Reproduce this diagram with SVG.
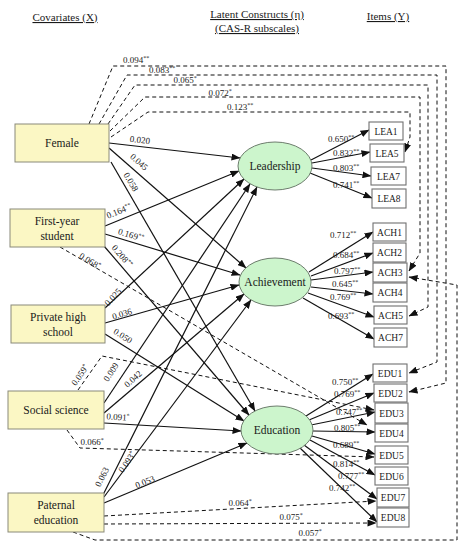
<svg xmlns="http://www.w3.org/2000/svg" width="465" height="550" viewBox="0 0 465 550">
<style>
text{font-family:"Liberation Serif","Times New Roman",serif;fill:#1a1a1a}
.hd{font-size:11px;text-decoration:underline;text-anchor:middle}
.cov rect{fill:#FBF7C4;stroke:#8a8a7a;stroke-width:1}
.cov text{font-size:11.5px;text-anchor:middle}
.lat ellipse{fill:#CCF5CC;stroke:#6d7d6d;stroke-width:1}
.lat text{font-size:11.5px;text-anchor:middle}
.itm rect{fill:#fff;stroke:#707070;stroke-width:1.1}
.itm text{font-size:9.5px;text-anchor:middle}
.sol{fill:none;stroke:#111;stroke-width:1.2;marker-end:url(#ah)}
.dsh{fill:none;stroke:#111;stroke-width:1;stroke-dasharray:4 3}
.da{marker-end:url(#ah)}
.lb{font-size:9px;text-anchor:middle}
.st{font-size:6px}
</style>
<defs>
<marker id="ah" markerWidth="9" markerHeight="7" refX="8.5" refY="3.5" orient="auto" markerUnits="userSpaceOnUse">
<path d="M0,0 L9,3.5 L0,7 z" fill="#111"/>
</marker>
</defs>
<g id="headers">
<text class="hd" x="65" y="21">Covariates (X)</text>
<text class="hd" x="257" y="18">Latent Constructs (η)</text>
<text class="hd" x="257" y="32">(CAS-R subscales)</text>
<text class="hd" x="388" y="20">Items (Y)</text>
</g>
<g id="connectors">
<!-- dashed covariances from Female -->
<path class="dsh da" d="M89,124 L113,66 L446,66 L446,383 L409,392"/>
<path class="dsh da" d="M99,124 L127,75 L437,75 L437,362 L409,373"/>
<path class="dsh da" d="M108,124 L135,85 L428,85 L428,307 L409,316"/>
<path class="dsh da" d="M110,131 L145,97 L420,97 L420,253 L409,271"/>
<path class="dsh da" d="M111,137 L148,112 L410,112 L410,137 L405,152"/>
<!-- dashed other -->
<path class="dsh da" d="M60,247 L367,425"/>
<path class="dsh da" d="M78,390 L102,356 L374,410"/>
<path class="dsh da" d="M67,430 L80,448 L374,457"/>
<path class="dsh da" d="M104,516 L376,501"/>
<path class="dsh da" d="M104,524 L376,523"/>
<path class="dsh da" d="M73,532 L95,540 L457,540 L457,285 L409,277"/>
<!-- covariate to construct -->
<path class="sol" d="M109,143 L240,158"/>
<path class="sol" d="M109,148 L246,268"/>
<path class="sol" d="M111,162 L255,411"/>
<path class="sol" d="M105,226 L239,171"/>
<path class="sol" d="M105,234 L240,275"/>
<path class="sol" d="M104,246 L249,415"/>
<path class="sol" d="M105,308 L244,179"/>
<path class="sol" d="M105,323 L239,285"/>
<path class="sol" d="M105,334 L244,421"/>
<path class="sol" d="M104,403 L250,184"/>
<path class="sol" d="M104,413 L244,294"/>
<path class="sol" d="M104,423 L241,431"/>
<path class="sol" d="M103,495 L257,187"/>
<path class="sol" d="M104,497 L251,300"/>
<path class="sol" d="M104,503 L247,443"/>
<!-- loadings -->
<path class="sol" d="M311,160 L369,130"/>
<path class="sol" d="M312,163 L370,152"/>
<path class="sol" d="M312,168 L371,176"/>
<path class="sol" d="M310,173 L372,198"/>
<path class="sol" d="M309,272 L373,232"/>
<path class="sol" d="M311,276 L373,253"/>
<path class="sol" d="M311,280 L373,272"/>
<path class="sol" d="M311,287 L373,294"/>
<path class="sol" d="M308,293 L374,317"/>
<path class="sol" d="M303,298 L374,339"/>
<path class="sol" d="M306,416 L373,374"/>
<path class="sol" d="M309,420 L374,393"/>
<path class="sol" d="M311,425 L375,412"/>
<path class="sol" d="M313,431 L375,432"/>
<path class="sol" d="M312,436 L375,454"/>
<path class="sol" d="M310,440 L375,475"/>
<path class="sol" d="M304,445 L377,499"/>
<path class="sol" d="M300,448 L377,522"/>
</g>
<g id="labels">
<text class="lb" x="136" y="63">0.094<tspan class="st" dy="-3">**</tspan></text>
<text class="lb" x="162" y="73">0.083<tspan class="st" dy="-3">**</tspan></text>
<text class="lb" x="185" y="83">0.065<tspan class="st" dy="-3">*</tspan></text>
<text class="lb" x="220" y="96">0.072<tspan class="st" dy="-3">*</tspan></text>
<text class="lb" x="240" y="110">0.123<tspan class="st" dy="-3">**</tspan></text>
<text class="lb" transform="translate(140,140) rotate(6.5)" dy="3">0.020</text>
<text class="lb" transform="translate(139,162) rotate(41)" dy="3">0.045</text>
<text class="lb" transform="translate(131,182) rotate(60)" dy="3">0.058</text>
<text class="lb" transform="translate(119,211) rotate(-22)" dy="3">0.164<tspan class="st" dy="-3">**</tspan></text>
<text class="lb" transform="translate(131,235) rotate(17)" dy="3">0.169<tspan class="st" dy="-3">**</tspan></text>
<text class="lb" transform="translate(122,256) rotate(49)" dy="3">0.208<tspan class="st" dy="-3">**</tspan></text>
<text class="lb" transform="translate(90,261) rotate(32)" dy="3">0.068<tspan class="st" dy="-3">*</tspan></text>
<text class="lb" transform="translate(113,297) rotate(-47)" dy="3">0.025</text>
<text class="lb" transform="translate(122,314) rotate(-17)" dy="3">0.036</text>
<text class="lb" transform="translate(123,336) rotate(33)" dy="3">0.050</text>
<text class="lb" transform="translate(80,375) rotate(-55)" dy="3">0.059<tspan class="st" dy="-3">*</tspan></text>
<text class="lb" transform="translate(111,372) rotate(-57)" dy="3">0.009</text>
<text class="lb" transform="translate(133,379) rotate(-42)" dy="3">0.042</text>
<text class="lb" transform="translate(118,417) rotate(4)" dy="3">0.091<tspan class="st" dy="-3">*</tspan></text>
<text class="lb" x="92" y="445">0.066<tspan class="st" dy="-3">*</tspan></text>
<text class="lb" transform="translate(102,477) rotate(-63)" dy="3">0.063</text>
<text class="lb" transform="translate(127,462) rotate(-55)" dy="3">0.093<tspan class="st" dy="-3">*</tspan></text>
<text class="lb" transform="translate(145,482) rotate(-22)" dy="3">0.053</text>
<text class="lb" x="240" y="506">0.064<tspan class="st" dy="-3">*</tspan></text>
<text class="lb" x="291" y="520">0.075<tspan class="st" dy="-3">*</tspan></text>
<text class="lb" x="310" y="536">0.057<tspan class="st" dy="-3">*</tspan></text>
<text class="lb" x="341" y="142">0.650<tspan class="st" dy="-3">**</tspan></text>
<text class="lb" x="346" y="156">0.832<tspan class="st" dy="-3">**</tspan></text>
<text class="lb" x="346" y="171">0.803<tspan class="st" dy="-3">**</tspan></text>
<text class="lb" x="346" y="188">0.741<tspan class="st" dy="-3">**</tspan></text>
<text class="lb" x="343" y="238">0.712<tspan class="st" dy="-3">**</tspan></text>
<text class="lb" x="346" y="258">0.684<tspan class="st" dy="-3">**</tspan></text>
<text class="lb" x="347" y="274">0.797<tspan class="st" dy="-3">**</tspan></text>
<text class="lb" x="345" y="287">0.645<tspan class="st" dy="-3">**</tspan></text>
<text class="lb" x="343" y="300">0.769<tspan class="st" dy="-3">**</tspan></text>
<text class="lb" x="341" y="319">0.693<tspan class="st" dy="-3">**</tspan></text>
<text class="lb" x="345" y="385">0.750<tspan class="st" dy="-3">**</tspan></text>
<text class="lb" x="347" y="397">0.769<tspan class="st" dy="-3">**</tspan></text>
<text class="lb" x="349" y="415">0.747<tspan class="st" dy="-3">**</tspan></text>
<text class="lb" x="347" y="431">0.805<tspan class="st" dy="-3">**</tspan></text>
<text class="lb" x="346" y="448">0.689<tspan class="st" dy="-3">**</tspan></text>
<text class="lb" x="346" y="467">0.814<tspan class="st" dy="-3">**</tspan></text>
<text class="lb" x="351" y="479">0.777<tspan class="st" dy="-3">**</tspan></text>
<text class="lb" x="342" y="491">0.742<tspan class="st" dy="-3">**</tspan></text>
</g>
<g id="female" class="cov"><rect x="15" y="124" width="94" height="38"/><text x="62" y="147">Female</text></g>
<g id="first-year" class="cov"><rect x="10" y="209" width="95" height="38"/><text x="57" y="225">First-year</text><text x="57" y="240">student</text></g>
<g id="private" class="cov"><rect x="11" y="305" width="94" height="38"/><text x="58" y="321">Private high</text><text x="58" y="336">school</text></g>
<g id="social" class="cov"><rect x="8" y="391" width="96" height="38"/><text x="56" y="414">Social science</text></g>
<g id="paternal" class="cov"><rect x="8" y="493" width="96" height="39"/><text x="56" y="509">Paternal</text><text x="56" y="524">education</text></g>
<g id="leadership" class="lat"><ellipse cx="275" cy="166" rx="37" ry="24"/><text x="275" y="170">Leadership</text></g>
<g id="achievement" class="lat"><ellipse cx="275" cy="282" rx="36" ry="24"/><text x="275" y="286">Achievement</text></g>
<g id="education" class="lat"><ellipse cx="277" cy="430" rx="36" ry="24"/><text x="277" y="434">Education</text></g>
<g id="LEA1" class="itm"><rect x="369" y="122" width="34" height="18"/><text x="386" y="134.5">LEA1</text></g>
<g id="LEA5" class="itm"><rect x="370" y="144" width="34" height="18"/><text x="387" y="156.5">LEA5</text></g>
<g id="LEA7" class="itm"><rect x="371" y="167" width="35" height="18"/><text x="388.5" y="179.5">LEA7</text></g>
<g id="LEA8" class="itm"><rect x="372" y="189" width="34" height="19"/><text x="389" y="202">LEA8</text></g>
<g id="ACH1" class="itm"><rect x="373" y="223" width="33" height="18"/><text x="389.5" y="235.5">ACH1</text></g>
<g id="ACH2" class="itm"><rect x="373" y="243" width="33" height="19"/><text x="389.5" y="256">ACH2</text></g>
<g id="ACH3" class="itm"><rect x="373" y="263" width="34" height="19"/><text x="390" y="276">ACH3</text></g>
<g id="ACH4" class="itm"><rect x="373" y="283" width="34" height="19"/><text x="390" y="296">ACH4</text></g>
<g id="ACH5" class="itm"><rect x="374" y="306" width="33" height="18"/><text x="390.5" y="318.5">ACH5</text></g>
<g id="ACH7" class="itm"><rect x="374" y="328" width="33" height="19"/><text x="390.5" y="341">ACH7</text></g>
<g id="EDU1" class="itm"><rect x="373" y="364" width="34" height="18"/><text x="390" y="376.5">EDU1</text></g>
<g id="EDU2" class="itm"><rect x="374" y="384" width="33" height="18"/><text x="390.5" y="396.5">EDU2</text></g>
<g id="EDU3" class="itm"><rect x="375" y="403" width="33" height="20"/><text x="391.5" y="416.5">EDU3</text></g>
<g id="EDU4" class="itm"><rect x="375" y="424" width="33" height="18"/><text x="391.5" y="436.5">EDU4</text></g>
<g id="EDU5" class="itm"><rect x="375" y="446" width="33" height="18"/><text x="391.5" y="458.5">EDU5</text></g>
<g id="EDU6" class="itm"><rect x="375" y="467" width="33" height="18"/><text x="391.5" y="479.5">EDU6</text></g>
<g id="EDU7" class="itm"><rect x="377" y="488" width="32" height="19"/><text x="393" y="501">EDU7</text></g>
<g id="EDU8" class="itm"><rect x="377" y="508" width="32" height="19"/><text x="393" y="521">EDU8</text></g>
</svg>
